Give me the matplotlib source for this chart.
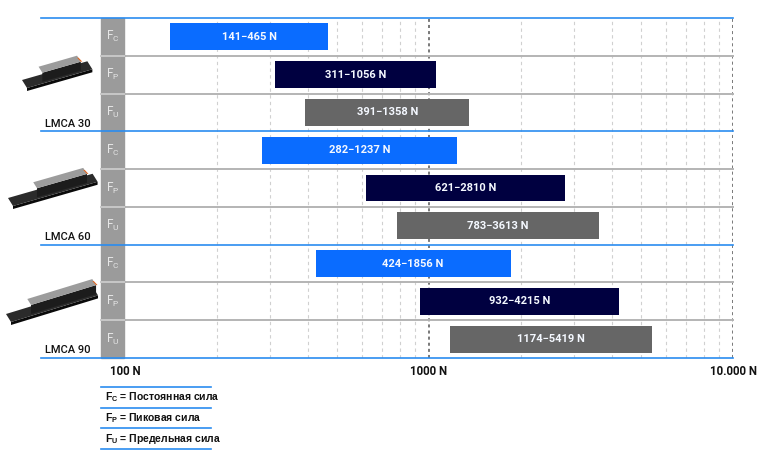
import numpy as np
import matplotlib
matplotlib.use('Agg')
import matplotlib.pyplot as plt
from matplotlib.patches import Rectangle, Polygon
from matplotlib.lines import Line2D
from matplotlib.transforms import blended_transform_factory

plt.rcParams['font.family'] = ['Roboto', 'DejaVu Sans']

# data
models = ['LMCA 30', 'LMCA 60', 'LMCA 90']
force_keys = ['C', 'P', 'U']
force_names = ['Постоянная сила', 'Пиковая сила', 'Предельная сила']
low = [141, 311, 391, 282, 621, 783, 424, 932, 1174]
high = [465, 1056, 1358, 1237, 2810, 3613, 1856, 4215, 5419]
bar_colors = {'C': '#0a6cff', 'P': '#000040', 'U': '#666666'}
tick_vals = [100, 1000, 10000]
tick_labels = ['100 N', '1000 N', '10.000 N']

W, H = 773, 468
fig = plt.figure(figsize=(W / 100, H / 100), dpi=100)

def fx(px):
    return px / W

def fy(py):
    return 1 - py / H

top_px, bot_px = 18, 358
left_px, right_px = 125, 733
ax = fig.add_axes([fx(left_px), fy(bot_px), fx(right_px) - fx(left_px), (bot_px - top_px) / H])
ax.set_xscale('log')
ax.set_xlim(100, 10000)
n_rows = len(low)
ax.set_ylim(n_rows, 0)
for s in ax.spines.values():
    s.set_visible(False)

# vertical grid
minor = [m * d for d in (100, 1000) for m in range(2, 10)]
for v in minor:
    ax.axvline(v, color='#d0d0d0', lw=0.8, ls=(0, (3, 3)), zorder=0)
for v in (1000, 10000):
    ax.axvline(v, color='#555555', lw=1.1, ls=(0, (2, 2)), zorder=0)

# bars
rows = np.arange(n_rows)
for i in rows:
    key = force_keys[i % 3]
    ax.barh(i + 0.5, high[i] - low[i], left=low[i], height=0.71,
            color=bar_colors[key], zorder=2)
    mid = np.sqrt(low[i] * high[i])
    ax.text(mid, i + 0.5, f'{low[i]}\u2212{high[i]} N', color='#f4f8ff',
            fontsize=8, fontweight='bold', ha='center', va='center', zorder=3)

ax.set_yticks([])
ax.set_xticks(tick_vals)
ax.set_xticklabels(tick_labels, fontsize=8.3, fontweight='semibold', color='#111111')
ax.xaxis.set_minor_locator(matplotlib.ticker.NullLocator())
ax.tick_params(axis='x', length=0, pad=5)

trans = blended_transform_factory(fig.transFigure, ax.transData)

# gray label column
col = Rectangle((fx(101), 0), fx(124) - fx(101), n_rows, transform=trans,
                color='#9b9b9b', zorder=4, clip_on=False)
fig.add_artist(col)
for i in rows:
    key = force_keys[i % 3]
    t = fig.text(0, 0, r'F$_\mathregular{' + key + '}$', transform=trans,
                 color='#e6e6e6', fontsize=8.5, ha='center', va='center', zorder=5)
    t.set_position((fx(112.5), i + 0.5))

# row separators
for i in range(1, n_rows):
    if i % 3 == 0:
        continue
    fig.add_artist(Line2D([fx(124), fx(733)], [i, i], transform=trans,
                          color='#b4b4b4', lw=1.4, zorder=1))
    fig.add_artist(Line2D([fx(101), fx(124)], [i, i], transform=trans,
                          color='#c8c8c8', lw=1.4, zorder=6))
for i in range(0, n_rows + 1, 3):
    fig.add_artist(Line2D([fx(41), fx(733)], [i, i], transform=trans,
                          color='#2a8cf0', lw=1.2, zorder=7))

# simple motor drawings (pixel coordinates of the picture)
def quad(p, a, b):
    return [p, p + a, p + a + b, p + b]

def motor(p0, length, car_off, car_len, ang_deg=16):
    ang = np.deg2rad(ang_deg)
    d = np.array([np.cos(ang), -np.sin(ang)])
    w = np.array([-5.0, -8.0])
    p0 = np.array(p0, dtype=float)
    shapes = []
    shapes.append((quad(p0, d * length, np.array([0, 3.0])), '#0a0a0a'))
    shapes.append((quad(p0, d * length, w), '#2b2b2b'))
    c0 = p0 + d * car_off + w * 0.2
    h = np.array([0, -9.0])
    shapes.append((quad(c0, d * car_len, h), '#1c1c1c'))
    shapes.append((quad(c0 + h, d * car_len, w * 0.75), '#9c9c9c'))
    end = c0 + h + d * car_len
    shapes.append((quad(end, np.array([1.5, 0.0]), w * 0.75 + np.array([0, 2.0])), '#e0641e'))
    for pts, c in shapes:
        pts = [(fx(q[0]), fy(q[1])) for q in pts]
        fig.add_artist(Polygon(pts, closed=True, color=c, zorder=3, lw=0))

motor((27, 88), 68, 17, 40)
motor((13, 206), 88, 26, 52)
motor((11, 322), 91, 22, 68, 17)

for g, name in enumerate(models):
    t = fig.text(0, 0, name, transform=trans, fontsize=8, color='#111111',
                 fontweight='medium', ha='left', va='bottom')
    t.set_position((fx(45), g * 3 + 2.93))

# legend
leg_lines = [387, 408, 428, 449]
for py in leg_lines:
    fig.add_artist(Line2D([fx(101), fx(211)], [fy(py), fy(py)], color='#2a8cf0', lw=1.2))
for k, (key, name) in enumerate(zip(force_keys, force_names)):
    yc = (leg_lines[k] + leg_lines[k + 1]) / 2
    fig.text(fx(105), fy(yc), r'F$_\mathregular{' + key + '}$' + ' = ' + name,
             family=['Liberation Sans', 'DejaVu Sans'], fontweight='bold',
             fontsize=7.5, color='#111111', ha='left', va='center')

fig.savefig('out.png', dpi=100)
